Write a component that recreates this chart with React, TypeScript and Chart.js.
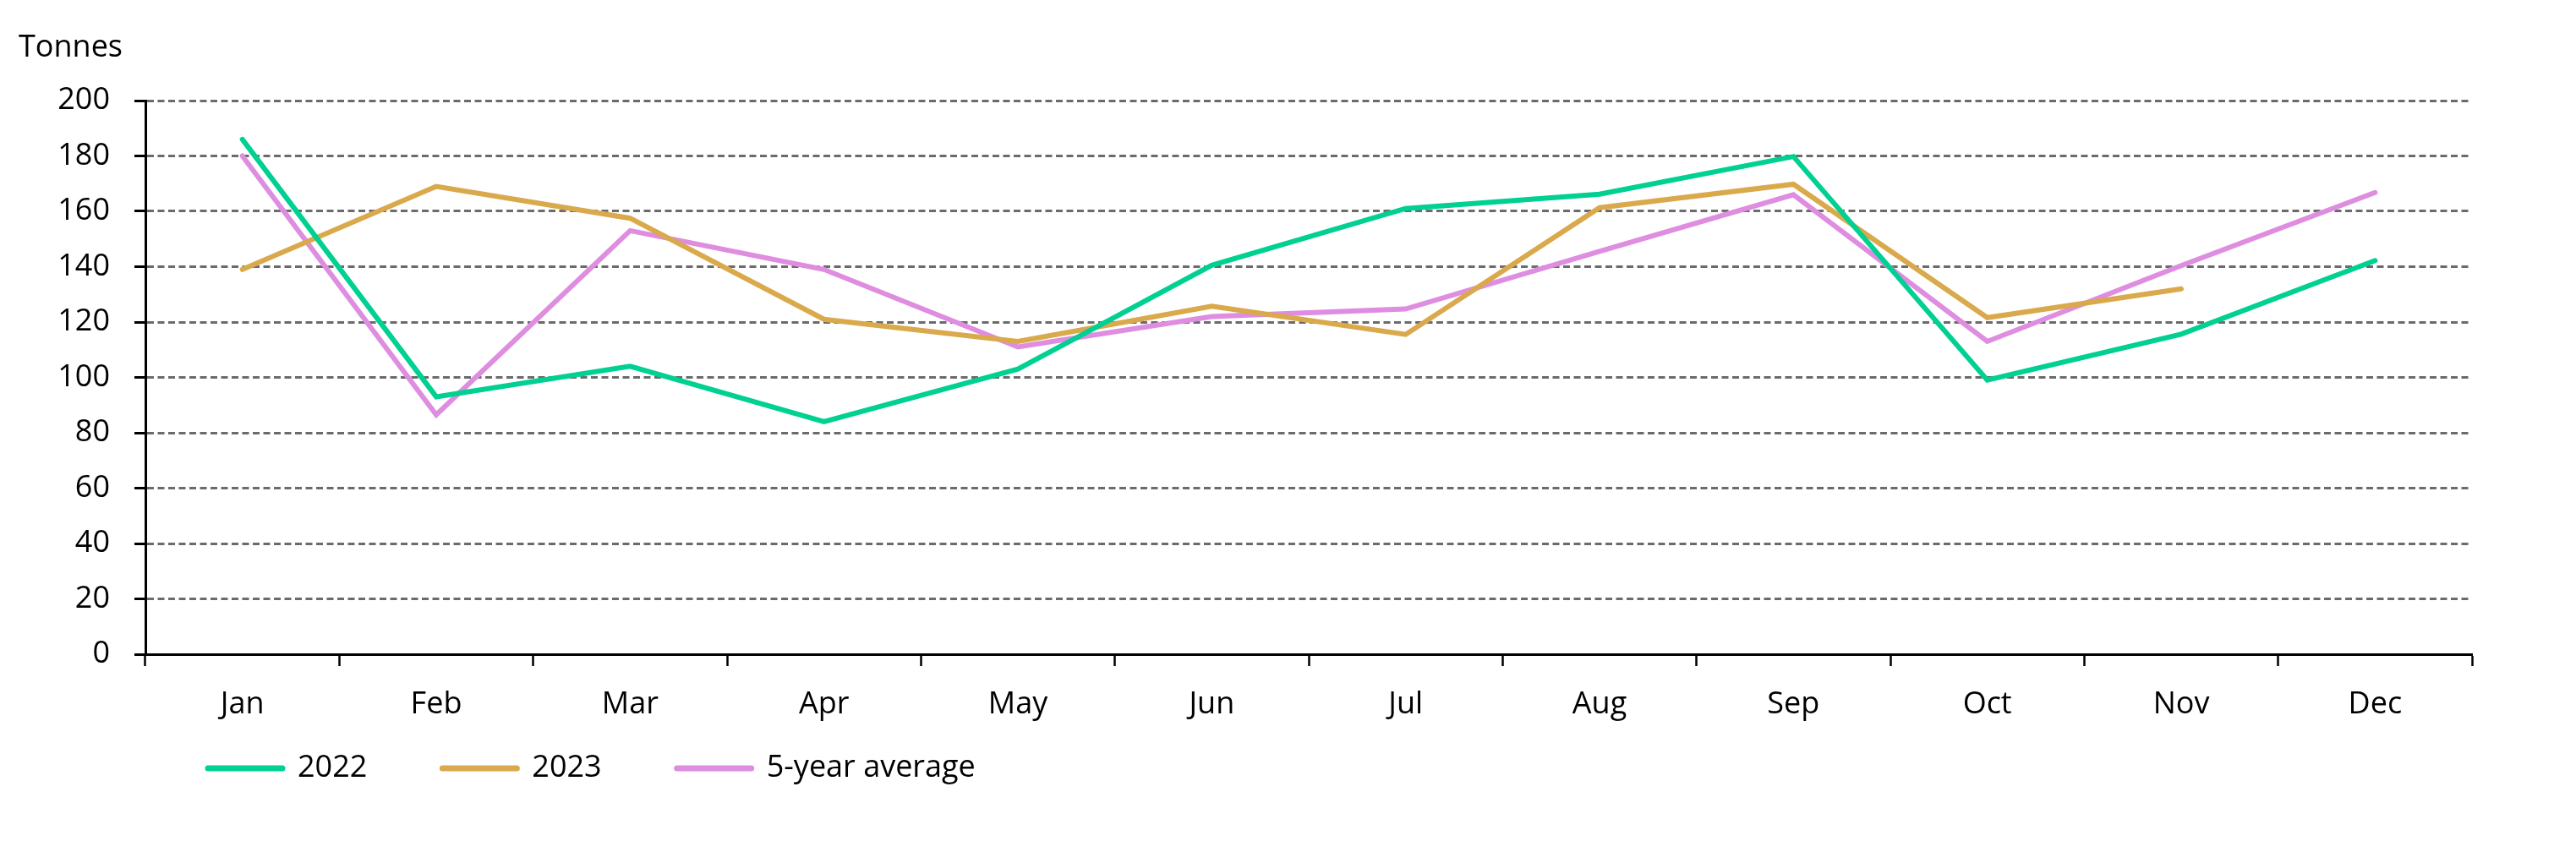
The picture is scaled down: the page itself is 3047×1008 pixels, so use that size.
import React, { useEffect, useRef } from 'react';
import { Chart, registerables } from 'chart.js';

Chart.register(...registerables);

const months = ['Jan', 'Feb', 'Mar', 'Apr', 'May', 'Jun', 'Jul', 'Aug', 'Sep', 'Oct', 'Nov', 'Dec'];
const values2022 = [186, 93, 104, 84, 103, 140.5, 161, 166.2, 179.8, 99, 115.6, 142.2];
const values2023 = [139, 169, 157.5, 121, 113, 125.7, 115.5, 161.3, 169.8, 121.6, 132, null];
const fiveYearAvg = [180, 86.5, 153, 139, 111, 122, 124.7, 145.5, 166, 113, 140.4, 166.8];
const yMin = 0;
const yMax = 200;
const yStep = 20;
const unitText = 'Tonnes';

const seriesNames = ['2022', '2023', '5-year average'];
const seriesColors = ['#00D092', '#D9A94C', '#DE8DE0'];

export default function App() {
  const ref = useRef<HTMLCanvasElement>(null);

  useEffect(() => {
    const family = '"Open Sans", "Liberation Sans", sans-serif';
    const fontSize = 36;
    Chart.defaults.color = '#000';

    const unitLabel = {
      id: 'unitLabel',
      afterLayout(chart: any) {
        // place the legend row under the axis labels, starting near the left
        const lg = chart.legend;
        if (lg) {
          lg.left = chart.chartArea.left - 15;
          lg.top = chart.chartArea.bottom + 28;
        }
      },
      afterDraw(chart: any) {
        const { ctx } = chart;
        ctx.save();
        ctx.font = `${fontSize}px ${family}`;
        ctx.fillStyle = '#000';
        ctx.textBaseline = 'middle';
        ctx.textAlign = 'left';
        ctx.fillText(unitText, 22, 57);
        ctx.restore();
      },
    };

    const series = [values2022, values2023, fiveYearAvg];
    const chart = new Chart(ref.current as HTMLCanvasElement, {
      type: 'line',
      data: {
        labels: months,
        datasets: series.map((data, i) => ({
          label: seriesNames[i],
          data,
          borderColor: seriesColors[i],
          backgroundColor: seriesColors[i],
          borderWidth: 6,
          borderCapStyle: 'round',
          pointRadius: 0,
          pointHoverRadius: 0,
          tension: 0,
          fill: false,
        })),
      },
      options: {
        animation: false,
        responsive: false,
        devicePixelRatio: 1,
        layout: { padding: { left: 0, right: 123, top: 119, bottom: 0 } },
        plugins: {
          tooltip: { enabled: false },
          legend: {
            position: 'bottom',
            align: 'start',
            labels: {
              usePointStyle: true,
              pointStyle: 'line',
              pointStyleWidth: 88,
              padding: 89,
              font: { family, size: fontSize },
              color: '#000',
              generateLabels: (c: any) =>
                Chart.defaults.plugins.legend.labels.generateLabels(c).map((l: any) => ({
                  ...l,
                  lineWidth: 7,
                  lineCap: 'round',
                })),
            },
          },
        },
        scales: {
          x: {
            offset: true,
            afterFit: (s: any) => {
              s.height = 99;
            },
            grid: {
              offset: true,
              drawOnChartArea: false,
              drawTicks: true,
              tickLength: 14,
              tickColor: '#000',
              tickWidth: 2.5,
            },
            border: { display: true, color: '#000', width: 3 },
            ticks: {
              font: { family, size: fontSize },
              color: '#000',
              padding: 24,
              maxRotation: 0,
              autoSkip: false,
            },
          },
          y: {
            min: yMin,
            max: yMax,
            afterFit: (s: any) => {
              s.width = 172;
            },
            grid: {
              color: '#6b6b6b',
              lineWidth: 3,
              drawTicks: true,
              tickLength: 13,
              tickColor: '#000',
              tickWidth: 3,
              tickBorderDash: [],
            },
            border: { display: true, color: '#000', width: 3, dash: [8, 4.5] },
            ticks: {
              stepSize: yStep,
              font: { family, size: fontSize },
              color: '#000',
              padding: 29,
            },
          },
        },
      },
      plugins: [unitLabel],
    } as any);

    return () => chart.destroy();
  }, []);

  return (
    <div style={{ position: 'fixed', left: 0, top: 0, width: 3047, height: 1008, background: '#fff' }}>
      <canvas ref={ref} width={3047} height={1008} style={{ display: 'block' }} />
    </div>
  );
}
